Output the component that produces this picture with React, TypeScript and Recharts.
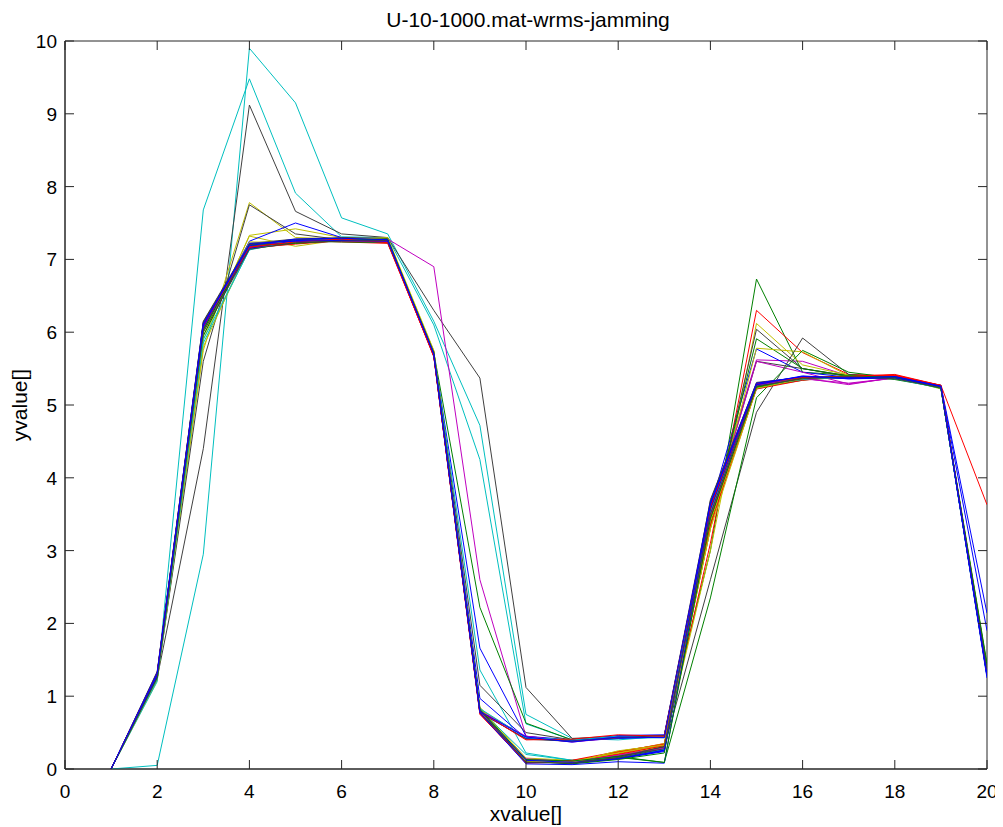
import React from 'react';
import { LineChart, Line, XAxis, YAxis, ReferenceArea } from 'recharts';

const title = 'U-10-1000.mat-wrms-jamming';
const xLabel = 'xvalue[]';
const yLabel = 'yvalue[]';

const xValues = [1, 2, 3, 4, 5, 6, 7, 8, 9, 10, 11, 12, 13, 14, 15, 16, 17, 18, 19, 20];
const xTicks = [0, 2, 4, 6, 8, 10, 12, 14, 16, 18, 20];
const yTicks = [0, 1, 2, 3, 4, 5, 6, 7, 8, 9, 10];

// main bundle
const b01 = [0, 1.30, 6.10, 7.18, 7.25, 7.28, 7.25, 5.70, 0.80, 0.10, 0.08, 0.14, 0.25, 3.60, 5.27, 5.37, 5.38, 5.38, 5.25, 1.30];
const b02 = [0, 1.28, 6.05, 7.15, 7.22, 7.26, 7.27, 5.72, 0.78, 0.12, 0.10, 0.18, 0.30, 3.50, 5.25, 5.35, 5.40, 5.36, 5.24, 1.28];
const b03 = [0, 1.32, 6.12, 7.20, 7.26, 7.24, 7.22, 5.68, 0.76, 0.08, 0.10, 0.20, 0.32, 3.45, 5.26, 5.36, 5.40, 5.41, 5.26, 1.32];
const b04 = [0, 1.25, 5.85, 7.14, 7.24, 7.27, 7.24, 5.70, 0.82, 0.20, 0.12, 0.16, 0.27, 3.65, 5.28, 5.38, 5.37, 5.37, 5.23, 1.35];
const b05 = [0, 1.27, 6.02, 7.16, 7.23, 7.25, 7.26, 5.69, 0.80, 0.45, 0.38, 0.44, 0.45, 3.55, 5.27, 5.36, 5.30, 5.37, 5.25, 1.30];
const b06 = [0, 1.24, 5.80, 7.19, 7.22, 7.29, 7.28, 5.73, 0.84, 0.13, 0.11, 0.22, 0.35, 3.40, 5.25, 5.37, 5.39, 5.39, 5.22, 1.40];
const b07 = [0, 1.31, 6.15, 7.22, 7.28, 7.30, 7.29, 5.71, 0.79, 0.10, 0.09, 0.15, 0.28, 3.70, 5.30, 5.38, 5.38, 5.37, 5.27, 1.34];
const b08 = [0, 1.33, 6.13, 7.17, 7.27, 7.27, 7.26, 5.67, 0.77, 0.42, 0.39, 0.46, 0.47, 3.62, 5.29, 5.39, 5.36, 5.38, 5.26, 1.28];
const b09 = [0, 1.26, 5.95, 7.21, 7.25, 7.24, 7.23, 5.74, 0.81, 0.11, 0.07, 0.13, 0.22, 3.58, 5.24, 5.34, 5.41, 5.35, 5.24, 1.45];
const b10 = [0, 1.29, 6.08, 7.16, 7.21, 7.26, 7.25, 5.66, 0.75, 0.09, 0.12, 0.24, 0.34, 3.35, 5.22, 5.34, 5.39, 5.40, 5.27, 1.30];
const b11 = [0, 1.23, 5.90, 7.13, 7.26, 7.28, 7.27, 5.72, 0.83, 0.43, 0.40, 0.45, 0.44, 3.52, 5.26, 5.35, 5.38, 5.36, 5.23, 1.27];
const b12 = [0, 1.30, 6.06, 7.18, 7.24, 7.25, 7.24, 5.70, 0.79, 0.14, 0.10, 0.19, 0.29, 3.48, 5.27, 5.37, 5.28, 5.38, 5.25, 1.33];
const b13 = [0, 1.27, 6.01, 7.24, 7.23, 7.27, 7.30, 5.75, 0.80, 0.11, 0.09, 0.25, 0.33, 3.30, 5.23, 5.36, 5.40, 5.37, 5.24, 1.38];
const b14 = [0, 1.34, 6.14, 7.20, 7.27, 7.29, 7.27, 5.68, 0.78, 0.41, 0.38, 0.43, 0.46, 3.68, 5.31, 5.38, 5.37, 5.38, 5.26, 1.30];
const b15 = [0, 1.28, 6.07, 7.15, 7.26, 7.27, 7.26, 5.69, 0.77, 0.07, 0.06, 0.10, 0.08, 3.57, 5.28, 5.39, 5.38, 5.39, 5.25, 1.25];
const b16 = [0, 1.26, 6.03, 7.19, 7.22, 7.26, 7.28, 5.71, 0.82, 0.13, 0.11, 0.17, 0.09, 3.44, 5.25, 5.37, 5.40, 5.38, 5.23, 1.42];
const b17 = [0, 1.31, 6.09, 7.17, 7.24, 7.28, 7.23, 5.67, 0.79, 0.40, 0.41, 0.47, 0.45, 3.60, 5.29, 5.38, 5.39, 5.42, 5.27, 1.31];
const b18 = [0, 1.29, 6.11, 7.22, 7.25, 7.26, 7.25, 5.70, 0.80, 0.12, 0.09, 0.14, 0.26, 3.64, 5.28, 5.40, 5.36, 5.37, 5.25, 1.32];
const b19 = [0, 1.25, 6.00, 7.14, 7.23, 7.25, 7.26, 5.72, 0.81, 0.09, 0.08, 0.16, 0.31, 3.50, 5.26, 5.36, 5.39, 5.36, 5.24, 1.36];
const b20 = [0, 1.32, 6.10, 7.19, 7.28, 7.29, 7.27, 5.70, 0.79, 0.44, 0.37, 0.44, 0.43, 3.66, 5.30, 5.39, 5.37, 5.39, 5.26, 1.29];

// outliers
const o01 = [0, 0.05, 2.95, 9.90, 9.15, 7.57, 7.35, 6.15, 4.72, 0.75, 0.42, 0.40, 0.45, 3.55, 5.22, 5.36, 5.38, 5.38, 5.24, 1.30];
const o02 = [0, 1.20, 7.68, 9.48, 7.91, 7.31, 7.30, 6.10, 4.25, 0.62, 0.40, 0.42, 0.43, 3.50, 5.24, 5.37, 5.38, 5.37, 5.25, 1.32];
const o03 = [0, 1.25, 4.40, 9.12, 7.66, 7.35, 7.30, 6.30, 5.37, 1.12, 0.42, 0.45, 0.46, 3.45, 5.25, 5.36, 5.39, 5.38, 5.24, 1.28];
const o04 = [0, 1.22, 5.75, 7.78, 7.30, 7.28, 7.28, 5.72, 0.85, 0.15, 0.12, 0.20, 0.30, 3.40, 5.26, 5.36, 5.38, 5.37, 5.24, 1.35];
const o05 = [0, 1.24, 5.60, 7.75, 7.35, 7.27, 7.26, 5.70, 0.78, 0.11, 0.09, 0.18, 0.27, 3.55, 5.28, 5.37, 5.39, 5.38, 5.25, 1.30];
const o06 = [0, 1.27, 5.90, 7.33, 7.42, 7.30, 7.27, 5.71, 0.80, 0.13, 0.10, 0.23, 0.31, 3.42, 5.25, 5.35, 5.38, 5.37, 5.23, 1.37];
const o07 = [0, 1.26, 5.95, 7.32, 7.18, 7.27, 7.25, 5.69, 0.82, 0.43, 0.39, 0.45, 0.44, 3.38, 5.24, 5.36, 5.37, 5.38, 5.24, 1.40];
const o08 = [0, 1.28, 6.05, 7.25, 7.50, 7.30, 7.26, 5.70, 0.79, 0.10, 0.08, 0.14, 0.24, 3.62, 5.28, 5.38, 5.38, 5.38, 5.25, 1.30];
const o09 = [0, 1.30, 6.08, 7.20, 7.25, 7.27, 7.28, 6.90, 2.60, 0.45, 0.38, 0.44, 0.45, 3.55, 5.62, 5.60, 5.40, 5.38, 5.25, 1.30];
const o10 = [0, 1.29, 6.06, 7.18, 7.24, 7.27, 7.26, 5.72, 2.22, 0.63, 0.40, 0.43, 0.44, 3.00, 6.73, 5.45, 5.41, 5.37, 5.24, 1.33];
const o11 = [0, 1.31, 6.10, 7.19, 7.26, 7.28, 7.27, 5.70, 1.66, 0.45, 0.40, 0.44, 0.46, 3.60, 5.77, 5.45, 5.38, 5.38, 5.26, 1.30];
const o12 = [0, 1.27, 6.02, 7.16, 7.24, 7.26, 7.25, 5.71, 1.36, 0.22, 0.12, 0.18, 0.28, 3.52, 5.25, 5.37, 5.38, 5.38, 5.24, 1.31];
const o13 = [0, 1.28, 6.04, 7.17, 7.25, 7.27, 7.26, 5.70, 1.15, 0.50, 0.40, 0.43, 0.45, 3.48, 5.60, 5.50, 5.40, 5.37, 5.25, 1.29];
const o14 = [0, 1.30, 6.07, 7.18, 7.26, 7.27, 7.26, 5.69, 0.97, 0.42, 0.38, 0.42, 0.44, 3.58, 5.27, 5.37, 5.38, 5.38, 5.25, 1.33];
const o15 = [0, 1.31, 6.09, 7.20, 7.25, 7.27, 7.25, 5.70, 0.79, 0.11, 0.10, 0.21, 0.33, 3.10, 6.30, 5.72, 5.42, 5.40, 5.25, 1.32];
const o16 = [0, 1.30, 6.11, 7.21, 7.26, 7.26, 7.24, 5.68, 0.77, 0.09, 0.11, 0.23, 0.35, 3.50, 5.27, 5.36, 5.39, 5.41, 5.27, 3.63];
const o17 = [0, 1.25, 6.00, 7.17, 7.23, 7.26, 7.27, 5.72, 0.81, 0.12, 0.10, 0.24, 0.34, 3.00, 6.12, 5.55, 5.41, 5.37, 5.23, 1.36];
const o18 = [0, 1.27, 6.03, 7.19, 7.25, 7.28, 7.27, 5.70, 0.80, 0.10, 0.09, 0.16, 0.30, 3.30, 6.04, 5.50, 5.39, 5.38, 5.25, 1.31];
const o19 = [0, 1.28, 6.05, 7.17, 7.24, 7.27, 7.26, 5.71, 0.80, 0.12, 0.10, 0.17, 0.28, 3.35, 5.91, 5.50, 5.40, 5.37, 5.24, 1.30];
const o20 = [0, 1.26, 6.01, 7.18, 7.24, 7.27, 7.27, 5.73, 0.82, 0.13, 0.11, 0.22, 0.32, 3.30, 5.78, 5.73, 5.40, 5.37, 5.24, 1.38];
const o21 = [0, 1.29, 6.06, 7.18, 7.24, 7.26, 7.25, 5.69, 0.79, 0.44, 0.37, 0.43, 0.45, 3.45, 5.60, 5.45, 5.29, 5.37, 5.25, 1.31];
const o22 = [0, 1.27, 6.04, 7.18, 7.25, 7.27, 7.26, 5.71, 0.80, 0.11, 0.09, 0.17, 0.30, 2.60, 4.90, 5.92, 5.42, 5.38, 5.25, 1.30];
const o23 = [0, 1.28, 6.05, 7.17, 7.24, 7.27, 7.27, 5.72, 0.80, 0.12, 0.10, 0.16, 0.09, 2.35, 5.10, 5.75, 5.45, 5.37, 5.24, 1.31];
const o24 = [0, 1.30, 6.08, 7.19, 7.26, 7.27, 7.26, 5.70, 0.79, 0.10, 0.09, 0.15, 0.27, 3.62, 5.28, 5.38, 5.38, 5.39, 5.27, 2.14];
const o25 = [0, 1.29, 6.07, 7.18, 7.25, 7.27, 7.26, 5.70, 0.80, 0.11, 0.08, 0.14, 0.26, 3.60, 5.27, 5.37, 5.38, 5.38, 5.26, 1.90];

const C_B = '#0000ff';
const C_G = '#008000';
const C_R = '#ff0000';
const C_C = '#00bfbf';
const C_M = '#bf00bf';
const C_Y = '#bfbf00';
const C_K = '#404040';

const seriesList = [
  o01, o02, o03, o04, o05, o06, o07, o08, o09, o10, o11, o12, o13,
  o14, o15, o16, o17, o18, o19, o20, o21, o22, o23, o24, o25,
  b01, b02, b03, b04, b05, b06, b07, b08, b09, b10,
  b11, b12, b13, b14, b15, b16, b17, b18, b19, b20,
];
const seriesColors = [
  C_C, C_C, C_K, C_Y, C_K, C_Y, C_Y, C_B, C_M, C_G, C_B, C_C, C_K,
  C_B, C_R, C_R, C_Y, C_K, C_G, C_Y, C_M, C_K, C_G, C_B, C_B,
  C_B, C_G, C_R, C_C, C_M, C_Y, C_K, C_B, C_G, C_R,
  C_C, C_M, C_Y, C_K, C_B, C_G, C_R, C_B, C_K, C_B,
];

const data = xValues.map((x, i) => {
  const row: Record<string, number> = { x };
  seriesList.forEach((s, j) => {
    row['s' + j] = s[i];
  });
  return row;
});

// layout (SVG coordinates)
const CHART_W = 995;
const CHART_H = 819;
const M_TOP = 33;
const M_RIGHT = 16;
const Y_AXIS_W = 57;
const X_AXIS_H = 58;
const PLOT_LEFT = Y_AXIS_W;
const PLOT_RIGHT = CHART_W - M_RIGHT;
const PLOT_TOP = M_TOP;
const PLOT_BOTTOM = CHART_H - X_AXIS_H;

const FONT = '"Liberation Sans", Arial, Helvetica, sans-serif';
const AXIS = '#262626';
const TICK_LEN = 9;

const BottomTick = (props: any) => {
  const { x, payload } = props;
  return (
    <g>
      <line x1={x} x2={x} y1={PLOT_BOTTOM} y2={PLOT_BOTTOM - TICK_LEN} stroke={AXIS} />
      <line x1={x} x2={x} y1={PLOT_TOP} y2={PLOT_TOP + TICK_LEN} stroke={AXIS} />
      <text x={x} y={PLOT_BOTTOM + 29} textAnchor="middle" fontSize={19} fill="#000" fontFamily={FONT}>
        {payload.value}
      </text>
    </g>
  );
};

const LeftTick = (props: any) => {
  const { y, payload } = props;
  return (
    <g>
      <line x1={PLOT_LEFT} x2={PLOT_LEFT + TICK_LEN} y1={y} y2={y} stroke={AXIS} />
      <line x1={PLOT_RIGHT} x2={PLOT_RIGHT - TICK_LEN} y1={y} y2={y} stroke={AXIS} />
      <text x={PLOT_LEFT - 8} y={y + 7} textAnchor="end" fontSize={19} fill="#000" fontFamily={FONT}>
        {payload.value}
      </text>
    </g>
  );
};

const XLabel = () => {
  const cx = PLOT_LEFT + (PLOT_RIGHT - PLOT_LEFT) / 2;
  return (
    <g>
      <text x={cx} y={PLOT_BOTTOM + 52} textAnchor="middle" fontSize={21} fill="#000" fontFamily={FONT}>
        {xLabel}
      </text>
      <text x={cx + 2} y={PLOT_TOP - 14} textAnchor="middle" fontSize={21} fill="#000" fontFamily={FONT}>
        {title}
      </text>
    </g>
  );
};

const YLabel = () => {
  const cx = 19;
  const cy = PLOT_TOP + (PLOT_BOTTOM - PLOT_TOP) / 2;
  return (
    <text x={cx} y={cy} transform={`rotate(-90 ${cx} ${cy})`} textAnchor="middle" fontSize={21} fill="#000" fontFamily={FONT}>
      {yLabel}
    </text>
  );
};

export default function App() {
  return (
    <div style={{ width: CHART_W, height: CHART_H, background: '#fff', fontFamily: FONT }}>
      <LineChart width={CHART_W} height={CHART_H} data={data} margin={{ top: M_TOP, right: M_RIGHT, bottom: 0, left: 0 }}>
        <XAxis
          dataKey="x"
          type="number"
          domain={[0, 20]}
          ticks={xTicks}
          interval={0}
          height={X_AXIS_H}
          tickLine={false}
          axisLine={{ stroke: AXIS }}
          tick={<BottomTick />}
          allowDataOverflow
          label={{ content: <XLabel /> }}
        />
        <YAxis
          type="number"
          domain={[0, 10]}
          ticks={yTicks}
          interval={0}
          width={Y_AXIS_W}
          tickLine={false}
          axisLine={{ stroke: AXIS }}
          tick={<LeftTick />}
          allowDataOverflow
          label={{ content: <YLabel /> }}
        />
        <ReferenceArea x1={0} x2={20} y1={0} y2={10} fill="none" fillOpacity={0} stroke={AXIS} strokeWidth={1} ifOverflow="visible" />
        {seriesList.map((_, j) => (
          <Line
            key={j}
            dataKey={'s' + j}
            stroke={seriesColors[j]}
            strokeWidth={1}
            dot={false}
            activeDot={false}
            isAnimationActive={false}
            strokeLinejoin="miter"
          />
        ))}
      </LineChart>
    </div>
  );
}
